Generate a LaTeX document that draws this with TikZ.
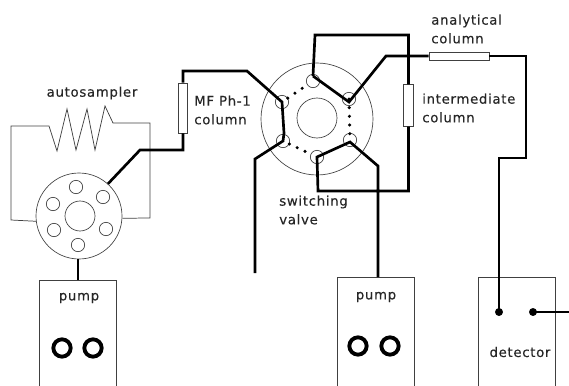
\documentclass[tikz,border=0pt]{standalone}
\usepackage{fontspec}
\setmainfont[LetterSpace=5,FakeBold=0.25]{DejaVu Sans}
\usetikzlibrary{positioning, calc}

\begin{document}
\begin{tikzpicture}[
    x=0.75pt, y=-0.75pt,
    pipe/.style={line width=2pt, line join=miter},
    pipe_dots/.style={line width=2.6pt, line cap=round, dash pattern=on 0pt off 6.5pt},
    wire/.style={line width=0.55pt, draw=black!75},
    disc/.style={circle, draw=black!75, line width=0.5pt, inner sep=0pt},
    valve_port/.style={disc, minimum size=10pt},
    column_v/.style={rectangle, draw=black!75, line width=0.6pt, fill=white, inner sep=0pt, minimum width=6.2pt},
    column_h/.style={rectangle, draw=black!75, line width=0.6pt, fill=white, inner sep=0pt, minimum height=6pt, minimum width=45pt},
    unit_box/.style={rectangle, draw=black!75, line width=0.55pt, inner sep=0pt, minimum width=58pt, anchor=north},
    knob/.style={circle, draw=black, line width=2.9pt, inner sep=0pt, minimum size=13pt},
    jack/.style={circle, draw=black, fill=black, inner sep=0pt, minimum size=5.5pt},
    txt/.style={font=\fontsize{10}{14}\selectfont, align=left, inner sep=0pt, text=black!85}
]
    \useasboundingbox (0,0) rectangle (569,386);
    \clip (0,0) rectangle (569,386);

    % Autosampler valve
    \node[disc, minimum size=64.5pt] (sampler) at (79,216) {};
    \node[disc, minimum size=22.5pt] (sampler_hub) at (80,216) {};
    \node[valve_port] (s1) at (76,187) {};
    \node[valve_port] (s2) at (103,197) {};
    \node[valve_port] (s3) at (106,229) {};
    \node[valve_port] (s4) at (78,245) {};
    \node[valve_port] (s5) at (54,230) {};
    \node[valve_port] (s6) at (53,204) {};
    \node[txt] (sampler_label) at (92,93) {autosampler};

    % Sample loop
    \draw[wire] (sampler.187) -- (11,220) -- (11,126) -- (49,126) -- (57,151) -- (67,109)
        -- (76,150) -- (87,109) -- (95,150) -- (105,106) -- (113,123) -- (150,123)
        -- (150,218) -- (sampler.-3);

    % Switching valve
    \node[disc, minimum size=84pt] (switch) at (317,119) {};
    \node[disc, minimum size=30pt] (switch_hub) at (317,118) {};
    \node[valve_port] (p1) at (282,102) {};
    \node[valve_port] (p2) at (313,81) {};
    \node[valve_port] (p3) at (349,99) {};
    \node[valve_port] (p4) at (350,140) {};
    \node[valve_port] (p5) at (317,157) {};
    \node[valve_port] (p6) at (283,141) {};
    \coordinate (p2_j) at ($(p2)+(0,-5)$);
    \coordinate (p3_j) at ($(p3)+(0,3)$);
    \coordinate (p4_j) at ($(p4)+(0,2)$);
    \node[txt, anchor=west] (switch_label) at (279,210) {switching\\valve};

    % Columns
    \node[column_v, minimum height=37.5pt] (mf_col) at (183,108) {};
    \node[column_v, minimum height=31pt, minimum width=8pt] (inter_col) at (408.5,105.5) {};
    \node[column_h] (ana_col) at (459,56) {};
    \node[txt, anchor=west] (mf_label) at (194,110) {MF Ph-1\\column};
    \node[txt, anchor=west] (inter_label) at (422,108) {intermediate\\column};
    \node[txt, anchor=west] (ana_label) at (431,29) {analytical\\column};

    % Pumps and detector
    \node[unit_box, minimum height=115pt] (pump_a) at (78,280) {};
    \node[unit_box, minimum height=115pt] (pump_b) at (376,277) {};
    \node[unit_box, minimum height=115pt] (det) at (517,277) {};
    \node[txt] (pump_a_label) at (79,298) {pump};
    \node[txt] (pump_b_label) at (376,297) {pump};
    \node[txt] (det_label) at (520,352) {detector};
    \node[knob] (a_k1) at (62,348) {};
    \node[knob] (a_k2) at (93,348) {};
    \node[knob] (b_k1) at (358,346) {};
    \node[knob] (b_k2) at (390,346) {};
    \node[jack] (det_in) at (499,312) {};
    \node[jack] (det_out) at (533,312) {};
    \coordinate (out_end) at (569,312);

    % Sample side plumbing
    \draw[pipe] (pump_a.north |- sampler.south) -- (pump_a.north);
    \draw[pipe] (sampler.48) -- (140,150) -- (183,150) -- (mf_col.south);

    % Through MF column to the valve
    \draw[pipe] (mf_col.north) -- (183,71) -- (247,71) -- (p1.center) -- (284,133) -- (p6.center)
        -- (255,159) -- (255,273);

    % Intermediate column loop
    \draw[pipe] (p2_j) -- (315,35) -- (408.5,35) -- (inter_col.north);
    \draw[pipe] (inter_col.south) -- (408.5,191) -- (318,191) -- (p5.center) -- (p4_j)
        -- (378,166) -- (378,277);

    % Analytical path
    \draw[pipe] (p2_j) -- (p3_j) -- (386,56) -- (ana_col.west);
    \draw[pipe] (ana_col.east) -- (526,56) -- (526,158) -- (499,158) -- (det_in.center);
    \draw[pipe] (det_out.center) -- (out_end);

    % Inactive valve channels
    \draw[pipe_dots] (p1) -- (p2);
    \draw[pipe_dots] (p3.center) -- (p4.center);
    \draw[pipe_dots] (p6) -- (p5);

\end{tikzpicture}
\end{document}
